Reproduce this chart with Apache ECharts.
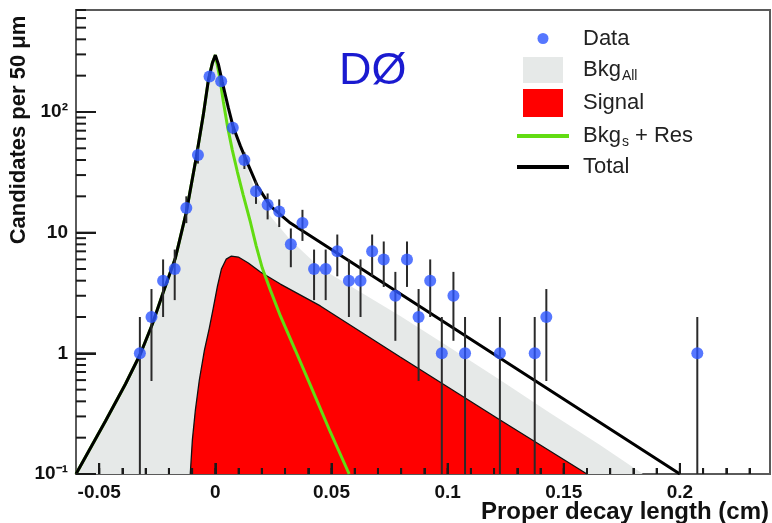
<!DOCTYPE html>
<html><head><meta charset="utf-8">
<script src="https://cdn.jsdelivr.net/npm/echarts@6/dist/echarts.min.js"></script>
<style>html,body{margin:0;padding:0;background:#fff}#c{width:772px;height:523px}</style>
</head><body><div id="c"></div>
<script>
// ---- data ----
const dataX = [-0.0325,-0.0275,-0.0225,-0.0175,-0.0125,-0.0075,-0.0025,0.0025,0.0075,0.0125,0.0175,0.0225,0.0275,0.0325,0.0375,0.0425,0.0475,0.0525,0.0575,0.0625,0.0675,0.0725,0.0775,0.0825,0.0875,0.0925,0.0975,0.1025,0.1075,0.1225,0.1375,0.1425,0.2075];
const dataY = [1,2,4,5,16,44,197,180,74,40,22,17,15,8,12,5,5,7,4,4,7,6,3,6,2,4,1,3,1,1,1,2,1];
const dataErr = [1,1.41,2,2.24,4,6.63,14.04,13.42,8.6,6.32,4.69,4.12,3.87,2.83,3.46,2.24,2.24,2.65,2,2,2.65,2.45,1.73,2.45,1.41,2,1,1.73,1,1,1,1.41,1];

const totalX = [-0.06,-0.0473,-0.0387,-0.0323,-0.0271,-0.0224,-0.0172,-0.0125,-0.0082,-0.0052,-0.0030,-0.0013,0,0.0013,0.0030,0.0056,0.0077,0.0108,0.0142,0.0181,0.0237,0.0323,0.2];
const totalY = [0.1,0.275,0.557,0.987,1.75,3.22,6.17,14.8,42.3,94.2,184,254,296,249,177,108,75,52.1,36.3,24.3,16.6,12.0,0.1];

const bkgAllX = [-0.06,-0.0473,-0.0387,-0.0323,-0.0271,-0.0224,-0.0172,-0.0125,-0.0082,-0.0052,-0.0030,-0.0013,0,0.0013,0.0030,0.0056,0.0077,0.0108,0.0142,0.0181,0.0237,0.0323,0.0452,0.0624,0.0796,0.1011,0.1226,0.1441,0.1656,0.1841];
const bkgAllY = [0.1,0.275,0.557,0.987,1.75,3.22,6.17,14.8,42.3,94.2,184,254,296,249,177,108,75,51.2,33.0,19.4,13.7,8.69,5.09,3.22,2.04,1.11,0.601,0.320,0.174,0.1];

const signalX = [-0.0108,-0.0099,-0.0086,-0.0069,-0.0047,-0.0026,-0.0009,0.0009,0.0026,0.0047,0.0069,0.0099,0.0142,0.0194,0.0280,0.0452,0.0796,0.1226,0.16];
const signalY = [0.1,0.191,0.339,0.601,1.065,1.62,2.37,3.61,4.99,6.04,6.40,6.28,5.60,4.72,3.75,2.47,0.931,0.280,0.1];

const bkgSResX = [-0.06,-0.0473,-0.0387,-0.0323,-0.0271,-0.0224,-0.0172,-0.0125,-0.0082,-0.0052,-0.0030,-0.0013,0,0.0017,0.0034,0.0052,0.0073,0.0095,0.0120,0.0151,0.0176,0.0202,0.0237,0.0280,0.0344,0.0409,0.0495,0.0576];
const bkgSResY = [0.1,0.275,0.557,0.987,1.75,3.22,6.17,14.8,42.3,94.2,184,254,296,202,123,76.4,48.3,31.8,20.5,12.2,7.74,5.09,3.34,2.04,1.065,0.546,0.223,0.1];

const xTickVals = [-0.05,0,0.05,0.1,0.15,0.2];
const xTickLabels = ['-0.05','0','0.05','0.1','0.15','0.2'];
const yTickVals = [0.1,1,10,100];
const yTickLabels = ['10\u207B\u00B9','1','10','10\u00B2'];
const yMinorTicks = [0.2,0.3,0.4,0.5,0.6,0.7,0.8,0.9,2,3,4,5,6,7,8,9,20,30,40,50,60,70,80,90,200,300,400,500,600,700];

// ---- config ----
const X_MIN = -0.06, X_MAX = 0.2388, Y_MIN = 0.1, Y_MAX = 700;
const xMinorTicks = [];
for (let i = -5; i <= 23; i++) xMinorTicks.push(i / 100);

const BLUE = '#2c55ff', GRAY = '#e6e9e8', RED = '#ff0000', GREEN = '#62dc12', TXT = '#222', TICK = '#1a1a1a';
const pairs = (xs, ys) => xs.map((x, i) => [x, ys[i]]);

const chart = echarts.init(document.getElementById('c'), null, {renderer: 'canvas'});

const legendRich = {
  n: {fontFamily: 'Liberation Sans', fontSize: 22, color: TXT},
  sub: {fontFamily: 'Liberation Sans', fontSize: 14, color: TXT, padding: [12,0,0,1]}
};
const legendText = {
  'Data': '{n|Data}',
  'Bkg_All': '{n|Bkg}{sub|All}',
  'Signal': '{n|Signal}',
  'Bkg_s + Res': '{n|Bkg}{sub|s}{n| + Res}',
  'Total': '{n|Total}'
};
function mkLegend(name, left, top, w, h, icon, color, gap) {
  return {
    selectedMode: false, orient: 'vertical', padding: 0, itemGap: 0,
    left: left, top: top, itemWidth: w, itemHeight: h,
    textStyle: {fontFamily: 'Liberation Sans', fontSize: 22, color: TXT, rich: legendRich, padding: [0, 0, 0, gap]},
    formatter: (nm) => legendText[nm],
    data: [{name: name, icon: icon, itemStyle: {color: color, borderWidth: 0}}]
  };
}

// tick marks drawn through the axes' own scales (custom series, on top of the fills)
function tickSeries(name, values, isX, len) {
  return {
    name: name, type: 'custom', z: 20, silent: true, clip: false,
    data: values.map(v => isX ? [v, Y_MIN] : [X_MIN, v]),
    encode: {x: 0, y: 1},
    renderItem: (params, api) => {
      const c = api.coord([api.value(0), api.value(1)]);
      const shape = isX ? {x1: c[0], y1: c[1], x2: c[0], y2: c[1] - len} : {x1: c[0], y1: c[1], x2: c[0] + len, y2: c[1]};
      return {type: 'line', shape: shape, style: {stroke: TICK, lineWidth: 2}};
    }
  };
}

const labelFont = {fontFamily: 'Liberation Sans', fontWeight: 'bold', fontSize: 19, color: '#111'};

const option = {
  animation: false,
  backgroundColor: '#fff',
  grid: {left: 76, right: 2, top: 10, bottom: 49, show: true, borderColor: '#5a5a5a', borderWidth: 2, backgroundColor: 'transparent'},
  legend: [
    mkLegend('Data', 537.5, 27.5, 11, 11, 'circle', BLUE, 29.5),
    mkLegend('Bkg_All', 523, 57, 40, 26, 'rect', GRAY, 15),
    mkLegend('Signal', 523, 89, 40, 28, 'rect', RED, 15),
    mkLegend('Bkg_s + Res', 517, 125, 52, 4, 'rect', GREEN, 9),
    mkLegend('Total', 517, 156, 52, 4, 'rect', '#000', 9)
  ],
  xAxis: [{
    type: 'value', min: X_MIN, max: X_MAX, position: 'bottom', zlevel: 1,
    axisLine: {show: false, onZero: false},
    axisTick: {show: true, inside: true, length: 11, customValues: xTickVals, lineStyle: {color: TICK, width: 2}},
    axisLabel: Object.assign({show: true, customValues: xTickVals, margin: 9,
      formatter: (v) => { const i = xTickVals.findIndex(t => Math.abs(t - v) < 1e-9); return i >= 0 ? xTickLabels[i] : ''; }}, labelFont),
    splitLine: {show: false}
  }, {
    type: 'value', min: X_MIN, max: X_MAX, position: 'bottom', zlevel: 1,
    axisLine: {show: false, onZero: false},
    axisTick: {show: true, inside: true, length: 6, customValues: xMinorTicks, lineStyle: {color: TICK, width: 2}},
    axisLabel: {show: false},
    splitLine: {show: false}
  }],
  yAxis: {
    type: 'log', logBase: 10, min: Y_MIN, max: Y_MAX, zlevel: 1,
    axisLine: {show: false, onZero: false},
    axisTick: {show: true, inside: true, length: 20, lineStyle: {color: TICK, width: 2}},
    axisLabel: Object.assign({margin: 8, showMaxLabel: false,
      formatter: (v) => { const lv = Math.log10(v); const i = yTickVals.findIndex(t => Math.abs(Math.log10(t) - lv) < 1e-6); return i >= 0 ? yTickLabels[i] : ''; }}, labelFont),
    splitLine: {show: false},
    minorTick: {show: false}
  },
  graphic: [
    {type: 'text', x: 339, y: 72, style: {text: 'D\u00D8', font: '45px "Liberation Sans"', fill: '#1a1ad0', verticalAlign: 'middle', align: 'left'}},
    {type: 'text', x: 19, y: 130, rotation: Math.PI / 2, style: {text: 'Candidates per 50 \u03BCm', font: 'bold 22px "Liberation Sans"', fill: '#111', align: 'center', verticalAlign: 'middle'}},
    {type: 'text', x: 769, y: 512, style: {text: 'Proper decay length (cm)', font: 'bold 24px "Liberation Sans"', fill: '#111', align: 'right', verticalAlign: 'middle'}}
  ],
  series: [
    {name: 'Bkg_All', type: 'line', data: pairs(bkgAllX, bkgAllY), symbol: 'none', z: 1,
      itemStyle: {color: GRAY}, lineStyle: {width: 0, color: GRAY}, areaStyle: {color: GRAY, opacity: 1, origin: 'start'}},
    {name: 'Signal', type: 'line', data: pairs(signalX, signalY), symbol: 'none', z: 2,
      itemStyle: {color: RED}, lineStyle: {width: 1.3, color: '#111'}, areaStyle: {color: RED, opacity: 1, origin: 'start'}},
    {name: 'Bkg_s + Res', type: 'line', data: pairs(bkgSResX, bkgSResY), symbol: 'none', z: 3,
      itemStyle: {color: GREEN}, lineStyle: {width: 3, color: GREEN}},
    {name: 'Total', type: 'line', data: pairs(totalX, totalY), symbol: 'none', z: 4,
      itemStyle: {color: '#000'}, lineStyle: {width: 3, color: '#000'}},
    {name: 'errors', type: 'custom', z: 5, silent: true,
      data: dataX.map((x, i) => [x, dataY[i] - dataErr[i], dataY[i] + dataErr[i]]),
      encode: {x: 0, y: [1, 2]},
      renderItem: (params, api) => {
        const x = api.value(0);
        const lo = Math.max(api.value(1), Y_MIN);
        const hi = api.value(2);
        const p1 = api.coord([x, lo]);
        const p2 = api.coord([x, hi]);
        return {type: 'line', shape: {x1: p1[0], y1: p1[1], x2: p2[0], y2: p2[1]}, style: {stroke: '#2a2a2a', lineWidth: 2}};
      }},
    {name: 'Data', type: 'scatter', z: 6, data: pairs(dataX, dataY), symbol: 'circle', symbolSize: 12,
      itemStyle: {color: BLUE}},
    tickSeries('yminor', yMinorTicks, false, 10),
    tickSeries('ymajor', yTickVals, false, 20),
    tickSeries('xmajor', xTickVals, true, 11),
    tickSeries('xminor', xMinorTicks, true, 6)
  ]
};
chart.setOption(option);
</script>
</body></html>
